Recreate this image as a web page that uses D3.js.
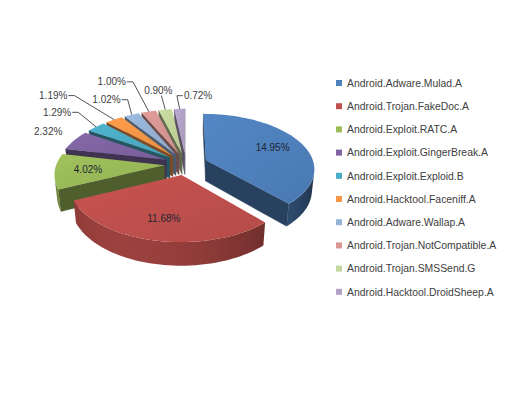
<!DOCTYPE html>
<html>
<head>
<meta charset="utf-8">
<script src="https://cdn.jsdelivr.net/npm/d3@7"></script>
<style>
  body { margin: 0; background: #fff; }
  svg { display: block; }
</style>
</head>
<body>
<div id="chart"></div>
<script>
const WIDTH = 517;
const HEIGHT = 400;

// data
const names = [
  "Android.Adware.Mulad.A",
  "Android.Trojan.FakeDoc.A",
  "Android.Exploit.RATC.A",
  "Android.Exploit.GingerBreak.A",
  "Android.Exploit.Exploid.B",
  "Android.Hacktool.Faceniff.A",
  "Android.Adware.Wallap.A",
  "Android.Trojan.NotCompatible.A",
  "Android.Trojan.SMSSend.G",
  "Android.Hacktool.DroidSheep.A"
];
const values = [14.95, 11.68, 4.02, 2.32, 1.29, 1.19, 1.02, 1.00, 0.90, 0.72];
const valueLabels = ["14.95%", "11.68%", "4.02%", "2.32%", "1.29%", "1.19%", "1.02%", "1.00%", "0.90%", "0.72%"];
const colors = ["#4F81BD", "#C0504D", "#9BBB59", "#8064A2", "#4BACC6",
                "#F79646", "#95B3D7", "#D99694", "#C3D69B", "#B3A2C7"];

// 3d look
const CX = 186, CY = 164, R = 108;
const TILT = 30 * Math.PI / 180;
const DIST = 6;        // camera distance, in pie radii
const DEPTH = 0.23;    // slab thickness, in pie radii
const EXPLODE = 0.2;
// hand moved labels, like in the original sheet
const LABEL_NUDGE = [null, null, null, [4, -2], [-16, -5], [-43, -13], [-12, -3], [-28, -17], [-2, -6], [20, 0]];

var svg = d3.select("div#chart").append("svg")
    .attr("width", WIDTH)
    .attr("height", HEIGHT)
    .style("font-family", "'Liberation Sans', Arial, sans-serif");

var sx = d3.scaleLinear([-1, 1], [CX - R, CX + R]);
var sy = d3.scaleLinear([-1, 1], [CY - R, CY + R]);

const sinT = Math.sin(TILT), cosT = Math.cos(TILT);
// world: x right, z toward viewer, h downward (top face h = 0)
const toCam = (x, z, h) => [x, z * sinT + h * cosT, z * cosT - h * sinT];
function project(x, z, h) {
  const c = toCam(x, z, h);
  const s = DIST / (DIST - c[2]);
  return [sx(c[0] * s), sy(c[1] * s)];
}
function facing(p, n) {
  const c = toCam(...p), m = toCam(...n);
  return m[0] * -c[0] + m[1] * -c[1] + m[2] * (DIST - c[2]) > 0;
}
const L = (() => { const v = [-0.4, 0.8, 0.45]; const l = Math.hypot(...v); return v.map(d => d / l); })();
const shade = (base, k) => d3.interpolateRgb("#000", base)(k);

const pie = d3.pie().sort(null).value(d => d);
const arcs = pie(values).map((d, i) => {
  const mid = (d.startAngle + d.endAngle) / 2;
  return {
    i, a0: d.startAngle, a1: d.endAngle, mid,
    ox: EXPLODE * Math.sin(mid), oz: -EXPLODE * Math.cos(mid)
  };
});

const pt = (s, a, r, h) => project(s.ox + r * Math.sin(a), s.oz - r * Math.cos(a), h);
const wpt = (s, a, r, h) => [s.ox + r * Math.sin(a), s.oz - r * Math.cos(a), h];
const poly = pts => d3.line()(pts) + "Z";

var defs = svg.append("defs");
colors.forEach((c, i) => {
  const g = defs.append("linearGradient").attr("id", "top" + i)
      .attr("x1", 0).attr("y1", 0).attr("x2", 1).attr("y2", 1);
  g.append("stop").attr("offset", "0%").attr("stop-color", d3.color(c).brighter(0.12));
  g.append("stop").attr("offset", "100%").attr("stop-color", d3.color(c).darker(0.18));
});

// far slices first
const order = arcs.slice().sort((p, q) =>
  (p.oz - 0.5 * Math.cos(p.mid)) - (q.oz - 0.5 * Math.cos(q.mid)));

var pieG = svg.append("g").attr("class", "pie");

order.forEach(s => {
  const g = pieG.append("g").attr("class", "slice-" + s.i);
  const base = colors[s.i];

  // cut faces
  [[s.a0, [-Math.cos(s.a0), -Math.sin(s.a0), 0]],
   [s.a1, [Math.cos(s.a1), Math.sin(s.a1), 0]]].forEach(([a, n]) => {
    if (!facing(wpt(s, a, 0.5, DEPTH / 2), n)) return;
    const pts = [pt(s, a, 0, 0), pt(s, a, 1, 0), pt(s, a, 1, DEPTH), pt(s, a, 0, DEPTH)];
    const c = shade(base, 0.5);
    g.append("path").attr("d", poly(pts)).attr("fill", c).attr("stroke", c).attr("stroke-width", 0.4);
  });

  // outer wall, split in runs of visible steps, one gradient per run
  const steps = Math.max(2, Math.ceil((s.a1 - s.a0) / (Math.PI / 90)));
  const da = (s.a1 - s.a0) / steps;
  const runs = [];
  let run = null;
  for (let k = 0; k < steps; k++) {
    const m = s.a0 + (k + 0.5) * da;
    const n = [Math.sin(m), -Math.cos(m), 0];
    if (facing(wpt(s, m, 1, DEPTH / 2), n)) {
      if (!run) { run = []; runs.push(run); }
      run.push(k);
    } else run = null;
  }
  runs.forEach((ks, ri) => {
    const a = s.a0 + ks[0] * da, b = s.a0 + (ks[ks.length - 1] + 1) * da;
    const n = Math.max(2, ks.length);
    const angles = d3.range(n + 1).map(j => a + (b - a) * j / n);
    const upper = angles.map(t => pt(s, t, 1, 0));
    const lower = angles.map(t => pt(s, t, 1, DEPTH)).reverse();
    const xs = upper.map(p => p[0]);
    const x0 = d3.min(xs), x1 = d3.max(xs);
    const id = `wall${s.i}_${ri}`;
    const grad = defs.append("linearGradient").attr("id", id)
        .attr("gradientUnits", "userSpaceOnUse")
        .attr("x1", x0).attr("x2", x1).attr("y1", 0).attr("y2", 0);
    const stops = angles.map(t => {
      const nx = Math.sin(t), nz = -Math.cos(t);
      const lit = Math.max(0, nx * L[0] + nz * L[1]);
      return { off: x1 > x0 ? (pt(s, t, 1, 0)[0] - x0) / (x1 - x0) : 0, c: shade(base, 0.45 + 0.4 * lit) };
    }).sort((p, q) => p.off - q.off);
    grad.selectAll("stop").data(stops).join("stop")
        .attr("offset", d => d.off).attr("stop-color", d => d.c);
    g.append("path").attr("d", poly(upper.concat(lower))).attr("fill", `url(#${id})`);
  });

  // top face
  const top = [pt(s, s.a0, 0, 0)];
  for (let k = 0; k <= steps; k++) top.push(pt(s, s.a0 + k * da, 1, 0));
  g.append("path").attr("d", poly(top)).attr("fill", `url(#top${s.i})`);
});

// data labels
const total = d3.sum(values);
var labelG = svg.append("g").attr("class", "labels").attr("font-size", 10);

arcs.forEach(s => {
  const inside = values[s.i] / total > 0.08;
  if (inside) {
    const p = pt(s, s.mid, 0.7, 0);
    labelG.append("text").attr("x", p[0]).attr("y", p[1])
      .attr("text-anchor", "middle").attr("dy", "0.35em")
      .attr("fill", "#1f2633").text(valueLabels[s.i]);
    return;
  }
  const nudge = LABEL_NUDGE[s.i] || [0, 0];
  const p0 = pt(s, s.mid, 1.35, 0);
  const p = [p0[0] + nudge[0], p0[1] + nudge[1]];
  const t = labelG.append("text").attr("x", p[0]).attr("y", p[1])
    .attr("text-anchor", "middle").attr("dy", "0.35em")
    .attr("fill", "#404040").text(valueLabels[s.i]);
  if (Math.hypot(...nudge) < 5) return;
  const w = t.node().getComputedTextLength();
  const anchor = pt(s, s.mid, 1, 0);
  const dx = anchor[0] - p[0];
  let line;
  if (Math.abs(dx) > w / 2 - 4) {
    const dir = Math.sign(dx);
    const side = p[0] + dir * (w / 2 + 1);
    line = [[side, p[1]], [side + dir * 6, p[1]], anchor];
  } else {
    line = [[p[0] + 3, p[1] + 5], anchor];
  }
  labelG.append("path").attr("d", d3.line()(line))
    .attr("fill", "none").attr("stroke", "#404040").attr("stroke-width", 0.9);
});

// legend
var legend = svg.append("g").attr("class", "legend")
    .attr("transform", "translate(336,83)");
var rows = legend.selectAll("g.row").data(names).join("g")
    .attr("class", "row")
    .attr("transform", (d, i) => `translate(0,${i * 23.2})`);
rows.append("rect").attr("x", 0).attr("y", -3).attr("width", 6).attr("height", 6)
    .attr("fill", (d, i) => colors[i]);
rows.append("text").attr("x", 11).attr("dy", "0.36em")
    .attr("font-size", 10.4).attr("fill", "#404040")
    .text(d => d);
</script>
</body>
</html>
